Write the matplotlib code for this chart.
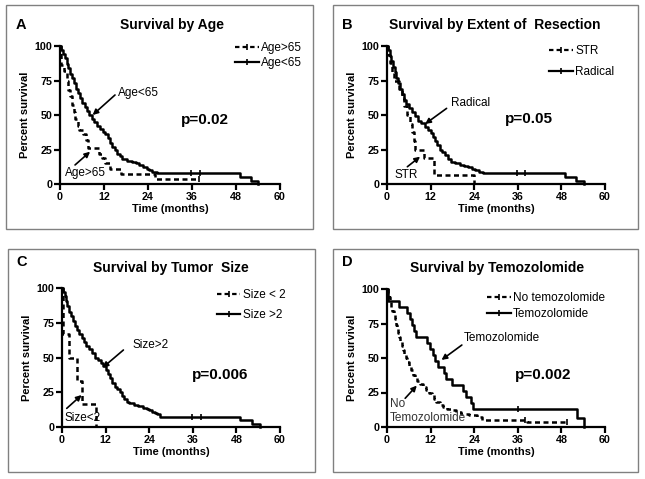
import matplotlib
matplotlib.use("Agg")
import matplotlib.pyplot as plt
from matplotlib.patches import Rectangle
from matplotlib.lines import Line2D

plt.rcParams['font.family'] = ['Liberation Sans', 'DejaVu Sans']

W, H = 645, 479

# ---------------- data (months, percent survival after each event) ----------------
# Panel A
age_lt65_t = [0.3, 0.8, 1.3, 1.8, 2.3, 2.8, 3.3, 3.8, 4.3, 4.9, 5.5, 6.1, 6.7, 7.3, 8.0, 8.7, 9.4, 10.0,
              10.8, 11.7, 12.4, 13.0, 13.6, 14.3, 15.0, 15.6, 16.3, 17.0, 18.2, 19.5, 20.6, 21.6, 22.6,
              23.6, 24.4, 25.2, 26.4, 49.1, 52.0, 54.1]
age_lt65_s = [97, 94, 91, 87, 84, 80, 77, 73, 69, 66, 62, 59, 56, 53, 50, 47, 45, 42,
              40, 38, 36, 33, 30, 27, 25, 22, 20, 18, 17, 16, 15, 14, 12,
              11, 10, 9, 8, 5, 2.5, 0]
age_lt65_end = 54.1
age_lt65_cens = [35.6, 38.2]

age_gt65_t = [0.3, 1.2, 1.8, 2.2, 2.8, 3.3, 3.8, 4.2, 4.8, 5.2, 6.4, 7.0, 7.7, 10.5, 11.4, 12.3, 13.6, 16.6, 25.9]
age_gt65_s = [86, 82, 75, 68, 64, 57, 52, 47, 42, 39, 36, 32, 26, 22, 19, 15, 11, 7, 3.5]
age_gt65_end = 38.0
age_gt65_cens = [38.0]

# Panel B
radical_t = [0.3, 0.7, 1.2, 1.6, 2.1, 2.6, 3.1, 3.6, 4.1, 4.6, 5.3, 6.0, 6.8, 7.6, 8.5, 9.4, 10.4, 11.2,
             12.0, 12.6, 13.2, 13.8, 14.5, 15.2, 16.0, 16.8, 17.6, 18.8, 20.0, 21.2, 22.4, 23.4, 24.3,
             25.2, 26.4, 49.1, 52.0, 54.2]
radical_s = [97, 93, 89, 85, 81, 77, 73, 69, 65, 61, 58, 55, 52, 49, 46, 44, 41, 39,
             37, 34, 31, 28, 25, 23, 21, 18, 16, 15, 14, 13, 12, 11, 10,
             9, 8, 5, 2.5, 0]
radical_end = 54.2
radical_cens = [35.8, 38.1]

str_t = [0.3, 0.9, 1.5, 2.0, 3.2, 4.0, 4.6, 5.5, 6.4, 6.9, 7.3, 7.8, 10.1, 12.9, 24.0]
str_s = [93.75, 87.5, 81.25, 75, 68.75, 62.5, 56.25, 50, 43.75, 37.5, 31.25, 25, 18.75, 6.25, 0]
str_end = 24.0
str_cens = []

# Panel C
size_gt2_t = [0.3, 0.7, 1.1, 1.5, 2.0, 2.5, 3.0, 3.6, 4.2, 4.8, 5.4, 6.0, 6.7, 7.4, 8.2, 9.0, 9.8, 10.6,
              11.4, 12.0, 12.6, 13.2, 13.8, 14.5, 15.2, 15.9, 16.5, 17.2, 17.8, 18.5, 19.8, 21.0, 22.2,
              23.3, 24.0, 24.8, 25.5, 26.2, 27.0, 49.0, 52.3, 54.5]
size_gt2_s = [97, 94, 91, 87, 83, 80, 76, 73, 70, 67, 64, 61, 58, 56, 53, 50, 48, 46,
              44, 41, 38, 35, 32, 29, 27, 25, 22, 20, 18, 17, 16, 15, 14,
              13, 12, 11, 10, 9, 7.5, 5, 2.5, 0]
size_gt2_end = 54.5
size_gt2_cens = [35.7, 38.3]

size_lt2_t = [0.2, 2.0, 4.0, 5.4, 9.3]
size_lt2_s = [66.7, 50, 33.3, 16.7, 0]
size_lt2_end = 9.3
size_lt2_cens = []

# Panel D
tmz_t = [0.4, 3.3, 5.4, 6.2, 6.8, 7.5, 7.9, 10.9, 11.9, 12.6, 13.3, 14.0, 15.8, 16.2, 17.8,
         20.9, 21.8, 23.0, 23.6, 52.3, 54.2]
tmz_s = [91.3, 87.0, 82.6, 78.3, 73.9, 69.6, 65.2, 60.9, 56.5, 52.2, 47.8, 43.5, 39.1, 34.8, 30.4,
         26.1, 21.7, 17.4, 13.0, 6.5, 0]
tmz_end = 54.2
tmz_cens = [36.0]

notmz_t = [0.3, 0.6, 0.9, 1.2, 1.5, 1.8, 2.1, 2.5, 2.8, 3.1, 3.4, 3.7, 4.0, 4.3, 4.7, 5.2, 5.6, 6.1,
           6.6, 7.1, 7.6, 8.3, 9.2, 10.0, 10.8, 11.6, 12.4, 13.0, 13.6, 14.5, 15.5, 16.5, 17.5,
           19.0, 20.5, 22.5, 24.8, 26.2, 38.5]
notmz_s = [97, 94, 91, 87, 84, 81, 78, 74, 71, 68, 65, 62, 59, 56, 53, 50, 47, 44,
           41, 38, 36, 33, 31, 29, 27, 25, 23, 20.5, 18, 16, 14.5, 13, 12,
           10.8, 9.7, 8.5, 7.3, 5.0, 3.4]
notmz_end = 49.5
notmz_cens = [38.0, 49.5]

x_ticks = [0, 12, 24, 36, 48, 60]
y_ticks = [0, 25, 50, 75, 100]

# ---------------- figure ----------------
fig = plt.figure(figsize=(W / 100, H / 100), dpi=100)


def fx(px):
    return px / W


def fy(py):
    return 1 - py / H


def add_axes(l, t, r, b):
    return fig.add_axes([fx(l), fy(b), (r - l) / W, (b - t) / H])


DASH = (0, (2.0, 1.4))


def km(ax, t, s, end, cens, dashed):
    xs = [0] + list(t) + [end]
    ys = [100] + list(s) + [s[-1]]
    ls = DASH if dashed else '-'
    ax.step(xs, ys, where='post', color='black', lw=1.8, ls=ls, clip_on=False, zorder=3)
    if cens:
        cy = []
        for c in cens:
            v = 100
            for ti, si in zip(t, s):
                if ti <= c:
                    v = si
            cy.append(v)
        ax.plot(cens, cy, ls='none', marker='|', ms=5, mew=1.2, color='black', clip_on=False, zorder=4)


def style(ax):
    ax.set_xlim(0, 60)
    ax.set_ylim(0, 100)
    ax.set_xticks(x_ticks)
    ax.set_yticks(y_ticks)
    for sp in ['top', 'right']:
        ax.spines[sp].set_visible(False)
    for sp in ['left', 'bottom']:
        ax.spines[sp].set_linewidth(1.6)
    ax.tick_params(width=1.6, length=4, labelsize=7.7, pad=1.5)
    for lab in ax.get_xticklabels() + ax.get_yticklabels():
        lab.set_fontweight('bold')
    ax.set_xlabel('Time (months)', fontsize=8, fontweight='bold', labelpad=2)
    ax.set_ylabel('Percent survival', fontsize=8, fontweight='bold', labelpad=3)
    ax.patch.set_alpha(0)


def legend(ax, labels, x, y, spacing):
    h = [Line2D([], [], color='black', lw=1.6, ls=DASH, marker='|', ms=4, mew=1.2),
         Line2D([], [], color='black', lw=1.6, ls='-', marker='|', ms=4, mew=1.2)]
    ax.legend(h, labels, loc='upper left', bbox_to_anchor=(x, y), frameon=False,
              fontsize=8.5, handlelength=2.0, handletextpad=0.2, borderpad=0,
              borderaxespad=0, labelspacing=spacing, markerscale=1)


def arrow(ax, tail, tip):
    ax.annotate('', xy=tip, xytext=tail,
                arrowprops=dict(arrowstyle='-|>', color='black', lw=1.2, mutation_scale=8,
                                shrinkA=0, shrinkB=0), annotation_clip=False)


# panel borders
for (l, t, r, b) in [(6, 5, 313, 229), (333, 5, 638, 229), (8, 249, 315, 472), (333, 249, 638, 472)]:
    fig.patches.append(Rectangle((fx(l), fy(b)), (r - l) / W, (b - t) / H, transform=fig.transFigure,
                                 fill=False, edgecolor='#808080', lw=1.0))

# ---- Panel A ----
axA = add_axes(60, 46, 280, 184)
km(axA, age_gt65_t, age_gt65_s, age_gt65_end, age_gt65_cens, True)
km(axA, age_lt65_t, age_lt65_s, age_lt65_end, age_lt65_cens, False)
style(axA)
legend(axA, ['Age>65', 'Age<65'], 0.795, 1.03, 0.3)
axA.text(15.8, 66, 'Age<65', fontsize=8.5, ha='left', va='center')
arrow(axA, (15.0, 64.5), (8.9, 50))
axA.text(1.4, 8, 'Age>65', fontsize=8.5, ha='left', va='center')
arrow(axA, (4.1, 13.8), (8.2, 23.4))
fig.text(fx(205), fy(120), 'p=0.02', fontsize=11, fontweight='bold', ha='center', va='center')
fig.text(fx(172), fy(25), 'Survival by Age', fontsize=10, fontweight='bold', ha='center', va='center')
fig.text(fx(16), fy(25), 'A', fontsize=10.5, fontweight='bold', ha='left', va='center')

# ---- Panel B ----
axB = add_axes(387, 46, 605, 184)
km(axB, str_t, str_s, str_end, str_cens, True)
km(axB, radical_t, radical_s, radical_end, radical_cens, False)
style(axB)
legend(axB, ['STR', 'Radical'], 0.745, 1.008, 0.75)
axB.text(17.6, 58.7, 'Radical', fontsize=8.5, ha='left', va='center')
arrow(axB, (16.4, 54.8), (10.5, 43.5))
axB.text(5.3, 6.5, 'STR', fontsize=8.5, ha='center', va='center')
arrow(axB, (5.6, 12.5), (9.1, 19.8))
fig.text(fx(529), fy(119), 'p=0.05', fontsize=11, fontweight='bold', ha='center', va='center')
fig.text(fx(495), fy(25), 'Survival by Extent of  Resection', fontsize=10, fontweight='bold',
         ha='center', va='center')
fig.text(fx(342), fy(25), 'B', fontsize=10.5, fontweight='bold', ha='left', va='center')

# ---- Panel C ----
axC = add_axes(62, 288, 280, 427)
km(axC, size_lt2_t, size_lt2_s, size_lt2_end, size_lt2_cens, True)
km(axC, size_gt2_t, size_gt2_s, size_gt2_end, size_gt2_cens, False)
style(axC)
legend(axC, ['Size < 2', 'Size >2'], 0.71, 0.99, 0.65)
axC.text(24.3, 59, 'Size>2', fontsize=8.5, ha='center', va='center')
arrow(axC, (16.9, 55.4), (11.2, 42.7))
axC.text(5.7, 6.7, 'Size<2', fontsize=8.5, ha='center', va='center')
arrow(axC, (1.3, 13.4), (5.4, 23))
fig.text(fx(220), fy(375), 'p=0.006', fontsize=11, fontweight='bold', ha='center', va='center')
fig.text(fx(171), fy(268), 'Survival by Tumor  Size', fontsize=10, fontweight='bold', ha='center', va='center')
fig.text(fx(16), fy(262), 'C', fontsize=10.5, fontweight='bold', ha='left', va='center')

# ---- Panel D ----
axD = add_axes(387, 289, 605, 427)
km(axD, notmz_t, notmz_s, notmz_end, notmz_cens, True)
km(axD, tmz_t, tmz_s, tmz_end, tmz_cens, False)
style(axD)
legend(axD, ['No temozolomide', 'Temozolomide'], 0.46, 0.975, 0.3)
axD.text(21.2, 64.3, 'Temozolomide', fontsize=8.5, ha='left', va='center')
arrow(axD, (20.6, 59.4), (15.0, 48.6))
axD.text(0.8, 16.4, 'No', fontsize=8.5, ha='left', va='center', color='#333333')
axD.text(0.8, 6.3, 'Temozolomide', fontsize=8.5, ha='left', va='center', color='#333333')
arrow(axD, (5.0, 20.8), (8.2, 30))
fig.text(fx(543), fy(375), 'p=0.002', fontsize=11, fontweight='bold', ha='center', va='center')
fig.text(fx(497), fy(268), 'Survival by Temozolomide', fontsize=10, fontweight='bold', ha='center', va='center')
fig.text(fx(342), fy(262), 'D', fontsize=10.5, fontweight='bold', ha='left', va='center')

fig.savefig('out.png', dpi=100)
